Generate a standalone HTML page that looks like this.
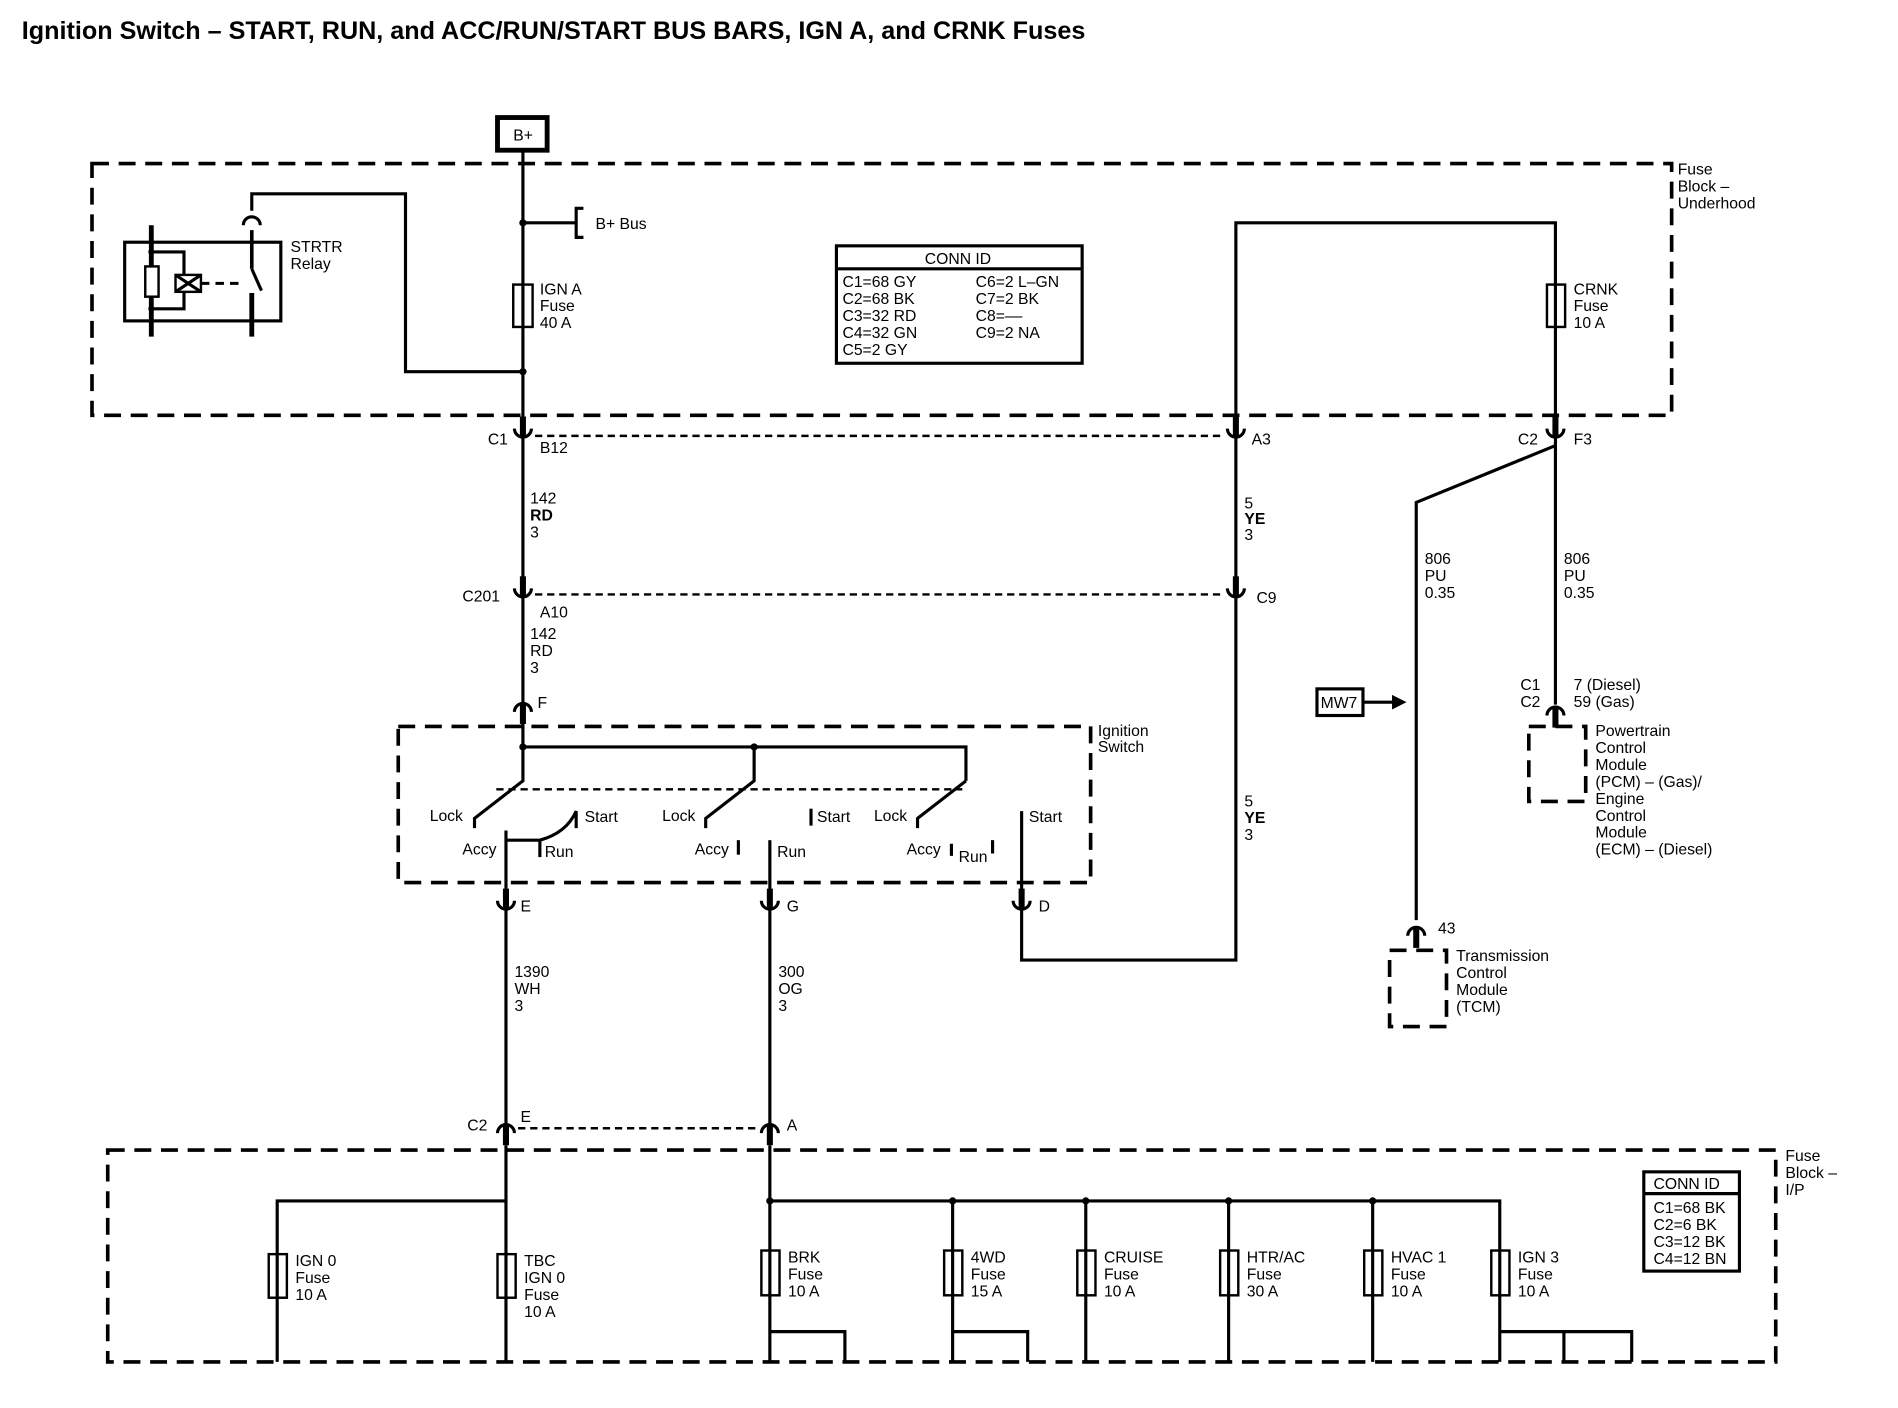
<!DOCTYPE html>
<html><head><meta charset="utf-8"><style>
html,body{margin:0;padding:0;background:#fff}
svg{display:block}
text{font-family:"Liberation Sans",Arial,sans-serif;font-size:13px;fill:#000}
.t{font-size:20.8px;font-weight:bold}
.w{stroke:#000;stroke-width:2.6;fill:none}
.d{stroke:#000;stroke-width:3;fill:none;stroke-dasharray:14 8}
.dt{stroke:#000;stroke-width:2;fill:none;stroke-dasharray:6 4}
.f{stroke:#000;stroke-width:2;fill:#fff}
</style></head><body>
<svg width="1898" height="1408" viewBox="0 0 1568 1163" xmlns="http://www.w3.org/2000/svg">
<defs>
<g id="fem"><line x1="0" y1="-16" x2="0" y2="0" stroke="#000" stroke-width="5"/><path d="M-7,-6 A7,7 0 0 0 7,-6" class="w"/></g>
<g id="mal"><line x1="0" y1="0" x2="0" y2="16" stroke="#000" stroke-width="5"/><path d="M-7,6 A7,7 0 0 1 7,6" class="w"/></g>
</defs>
<text x="18" y="32" class="t">Ignition Switch – START, RUN, and ACC/RUN/START BUS BARS, IGN A, and CRNK Fuses</text>

<rect x="411" y="97" width="41" height="27" fill="none" stroke="#000" stroke-width="4"/>
<text x="424" y="116" font-size="12">B+</text>

<rect x="76" y="135" width="1305" height="208" class="d"/>
<text x="1386" y="144">Fuse</text><text x="1386" y="158">Block –</text><text x="1386" y="172">Underhood</text>

<path d="M432,125 V352" class="w"/>
<circle cx="432" cy="184" r="3"/>
<path d="M432,184 H476" class="w"/>
<path d="M482,172 H476 V196 H482" class="w"/>
<text x="492" y="189">B+ Bus</text>
<rect x="424" y="235" width="16" height="35" class="f"/><line x1="432" y1="235" x2="432" y2="270" class="w"/>
<text x="446" y="243">IGN A</text><text x="446" y="257">Fuse</text><text x="446" y="271">40 A</text>
<circle cx="432" cy="307" r="3"/>
<path d="M432,307 H335 V160 H208 V174" class="w"/>
<path d="M201,186 A7,7 0 0 1 215,186" class="w"/>
<rect x="103" y="200" width="129" height="65" class="w"/>
<line x1="125" y1="186" x2="125" y2="278" stroke="#000" stroke-width="4"/>
<line x1="208" y1="190" x2="208" y2="222" stroke="#000" stroke-width="3"/>
<line x1="208" y1="242" x2="208" y2="278" stroke="#000" stroke-width="4"/>
<line x1="208" y1="222" x2="216" y2="240" class="w"/>
<rect x="120" y="220" width="11" height="25" class="f"/>
<path d="M125,208 H152 V227 M125,255 H152 V241" class="w"/>
<rect x="145" y="227" width="21" height="14" class="f"/>
<path d="M145,227 L166,241 M166,227 L145,241" class="w"/>
<line x1="166" y1="234" x2="202" y2="234" stroke="#000" stroke-width="2.5" stroke-dasharray="7 5"/>
<circle cx="125" cy="208" r="2.5"/><circle cx="125" cy="255" r="2.5"/>
<text x="240" y="208">STRTR</text><text x="240" y="222">Relay</text>

<rect x="691" y="203" width="203" height="97" class="w"/>
<line x1="691" y1="222" x2="894" y2="222" class="w"/>
<text x="764" y="218">CONN ID</text>
<text x="696" y="237" font-size="12">C1=68 GY</text><text x="696" y="251" font-size="12">C2=68 BK</text><text x="696" y="265" font-size="12">C3=32 RD</text><text x="696" y="279" font-size="12">C4=32 GN</text><text x="696" y="293" font-size="12">C5=2 GY</text>
<text x="806" y="237" font-size="12">C6=2 L–GN</text><text x="806" y="251" font-size="12">C7=2 BK</text><text x="806" y="265" font-size="12">C8=––</text><text x="806" y="279" font-size="12">C9=2 NA</text>

<path d="M1021,352 V184 H1285 V352" class="w"/>
<rect x="1278" y="235" width="15" height="35" class="f"/><line x1="1285" y1="235" x2="1285" y2="270" class="w"/>
<text x="1300" y="243">CRNK</text><text x="1300" y="257">Fuse</text><text x="1300" y="271">10 A</text>

<use href="#fem" x="432" y="360"/><use href="#fem" x="1021" y="360"/><use href="#fem" x="1285" y="360"/>
<line x1="442" y1="360" x2="1012" y2="360" class="dt"/>
<text x="403" y="367">C1</text><text x="446" y="374">B12</text><text x="1034" y="367">A3</text>
<text x="1254" y="367">C2</text><text x="1300" y="367">F3</text>

<path d="M432,362 V484" class="w"/>
<text x="438" y="416">142</text><text x="438" y="430" font-weight="bold">RD</text><text x="438" y="444">3</text>
<path d="M1021,362 V484" class="w"/>
<text x="1028" y="420">5</text><text x="1028" y="433" font-weight="bold">YE</text><text x="1028" y="446">3</text>

<use href="#fem" x="432" y="492"/><use href="#fem" x="1021" y="492"/>
<line x1="442" y1="491" x2="1012" y2="491" class="dt"/>
<text x="382" y="497">C201</text><text x="446" y="510">A10</text><text x="1038" y="498">C9</text>
<text x="438" y="528">142</text><text x="438" y="542">RD</text><text x="438" y="556">3</text>
<path d="M432,494 V580" class="w"/>
<path d="M1021,494 V793 H844 V752" class="w"/>
<text x="1028" y="666">5</text><text x="1028" y="680" font-weight="bold">YE</text><text x="1028" y="694">3</text>

<use href="#mal" x="432" y="582"/>
<text x="444" y="585">F</text>

<rect x="329" y="600" width="572" height="129" class="d"/>
<text x="907" y="608">Ignition</text><text x="907" y="621">Switch</text>
<path d="M432,598 V617" class="w"/>
<circle cx="432" cy="617" r="3"/><circle cx="623" cy="617" r="3"/>
<path d="M432,617 H798 V645" class="w" stroke-width="3"/>
<path d="M432,617 V645 L392,676 V684" class="w"/>
<path d="M623,617 V645 L583,676 V684" class="w"/>
<path d="M798,645 L758,676 V684" class="w"/>
<line x1="410" y1="652" x2="795" y2="652" class="dt"/>
<text x="355" y="678" font-size="12">Lock</text><text x="483" y="679" font-size="12">Start</text>
<text x="382" y="706" font-size="12">Accy</text><text x="450" y="708" font-size="12">Run</text>
<text x="547" y="678" font-size="12">Lock</text><text x="675" y="679" font-size="12">Start</text>
<text x="574" y="706" font-size="12">Accy</text><text x="642" y="708" font-size="12">Run</text>
<text x="722" y="678" font-size="12">Lock</text><text x="850" y="679" font-size="12">Start</text>
<text x="749" y="706" font-size="12">Accy</text><text x="792" y="712" font-size="12">Run</text>
<path d="M418,686 V742" class="w"/>
<path d="M418,694 H446 V708" class="w" stroke-width="3.2"/>
<path d="M446,694 Q468,688 476,670 V684" class="w"/>
<path d="M670,668 V682" class="w"/>
<path d="M610,694 V706" class="w"/>
<path d="M636,694 V742" class="w" stroke-width="3.5"/>
<path d="M786,697 V707 M820,694 V705" class="w"/>
<path d="M844,670 V742" class="w"/>

<use href="#fem" x="418" y="750"/><use href="#fem" x="636" y="750"/><use href="#fem" x="844" y="750"/>
<text x="430" y="753">E</text><text x="650" y="753">G</text><text x="858" y="753">D</text>
<path d="M418,752 V930 M636,752 V930" class="w"/>
<text x="425" y="807">1390</text><text x="425" y="821">WH</text><text x="425" y="835">3</text>
<text x="643" y="807">300</text><text x="643" y="821">OG</text><text x="643" y="835">3</text>

<use href="#mal" x="418" y="930"/><use href="#mal" x="636" y="930"/>
<line x1="428" y1="932" x2="628" y2="932" class="dt"/>
<text x="386" y="934">C2</text><text x="430" y="927">E</text><text x="650" y="934">A</text>

<rect x="89" y="950" width="1378" height="175" class="d"/>
<text x="1475" y="959">Fuse</text><text x="1475" y="973">Block –</text><text x="1475" y="987">I/P</text>
<path d="M418,946 V1125 M418,992 H229 V1125" class="w"/>
<rect x="222" y="1036" width="15" height="36" class="f"/><line x1="229" y1="1036" x2="229" y2="1072" class="w"/>
<rect x="411" y="1036" width="15" height="36" class="f"/><line x1="418" y1="1036" x2="418" y2="1072" class="w"/>
<text x="244" y="1046">IGN 0</text><text x="244" y="1060">Fuse</text><text x="244" y="1074">10 A</text>
<text x="433" y="1046">TBC</text><text x="433" y="1060">IGN 0</text><text x="433" y="1074">Fuse</text><text x="433" y="1088">10 A</text>

<path d="M636,946 V1125 M636,992 H1239 V1125 M787,992 V1125 M897,992 V1125 M1015,992 V1125 M1134,992 V1125" class="w"/>
<circle cx="636" cy="992" r="3"/><circle cx="787" cy="992" r="3"/><circle cx="897" cy="992" r="3"/><circle cx="1015" cy="992" r="3"/><circle cx="1134" cy="992" r="3"/>
<rect x="629" y="1033" width="15" height="37" class="f"/><line x1="636" y1="1033" x2="636" y2="1070" class="w"/>
<rect x="780" y="1033" width="15" height="37" class="f"/><line x1="787" y1="1033" x2="787" y2="1070" class="w"/>
<rect x="890" y="1033" width="15" height="37" class="f"/><line x1="897" y1="1033" x2="897" y2="1070" class="w"/>
<rect x="1008" y="1033" width="15" height="37" class="f"/><line x1="1015" y1="1033" x2="1015" y2="1070" class="w"/>
<rect x="1127" y="1033" width="15" height="37" class="f"/><line x1="1134" y1="1033" x2="1134" y2="1070" class="w"/>
<rect x="1232" y="1033" width="15" height="37" class="f"/><line x1="1239" y1="1033" x2="1239" y2="1070" class="w"/>
<text x="651" y="1043">BRK</text><text x="651" y="1057">Fuse</text><text x="651" y="1071">10 A</text>
<text x="802" y="1043">4WD</text><text x="802" y="1057">Fuse</text><text x="802" y="1071">15 A</text>
<text x="912" y="1043">CRUISE</text><text x="912" y="1057">Fuse</text><text x="912" y="1071">10 A</text>
<text x="1030" y="1043">HTR/AC</text><text x="1030" y="1057">Fuse</text><text x="1030" y="1071">30 A</text>
<text x="1149" y="1043">HVAC 1</text><text x="1149" y="1057">Fuse</text><text x="1149" y="1071">10 A</text>
<text x="1254" y="1043">IGN 3</text><text x="1254" y="1057">Fuse</text><text x="1254" y="1071">10 A</text>
<path d="M636,1100 H698 V1125 M787,1100 H849 V1125 M1239,1100 H1348 V1125 M1292,1100 V1125" class="w"/>

<rect x="1358" y="968" width="79" height="82" class="w"/>
<line x1="1358" y1="986" x2="1437" y2="986" class="w"/>
<text x="1366" y="982">CONN ID</text>
<text x="1366" y="1002" font-size="12">C1=68 BK</text><text x="1366" y="1016" font-size="12">C2=6 BK</text><text x="1366" y="1030" font-size="12">C3=12 BK</text><text x="1366" y="1044" font-size="12">C4=12 BN</text>

<path d="M1285,362 V582 M1285,368 L1170,415 V760" class="w"/>
<text x="1177" y="466">806</text><text x="1177" y="480">PU</text><text x="1177" y="494">0.35</text>
<text x="1292" y="466">806</text><text x="1292" y="480">PU</text><text x="1292" y="494">0.35</text>
<use href="#mal" x="1285" y="585"/>
<text x="1256" y="570">C1</text><text x="1256" y="584">C2</text>
<text x="1300" y="570">7 (Diesel)</text><text x="1300" y="584">59 (Gas)</text>
<rect x="1263" y="600" width="47" height="62" class="d" stroke-dasharray="10 7"/>
<text x="1318" y="608">Powertrain</text><text x="1318" y="622">Control</text><text x="1318" y="636">Module</text><text x="1318" y="650">(PCM) – (Gas)/</text><text x="1318" y="664">Engine</text><text x="1318" y="678">Control</text><text x="1318" y="692">Module</text><text x="1318" y="706">(ECM) – (Diesel)</text>
<rect x="1088" y="569" width="38" height="22" class="w"/>
<text x="1091" y="585" font-size="12">MW7</text>
<path d="M1126,580 H1152" class="w"/><path d="M1150,574 L1162,580 L1150,586 Z"/>
<use href="#mal" x="1170" y="767"/>
<text x="1188" y="771">43</text>
<rect x="1148" y="785" width="47" height="63" class="d" stroke-dasharray="10 7"/>
<text x="1203" y="794">Transmission</text><text x="1203" y="808">Control</text><text x="1203" y="822">Module</text><text x="1203" y="836">(TCM)</text>
</svg>
</body></html>
